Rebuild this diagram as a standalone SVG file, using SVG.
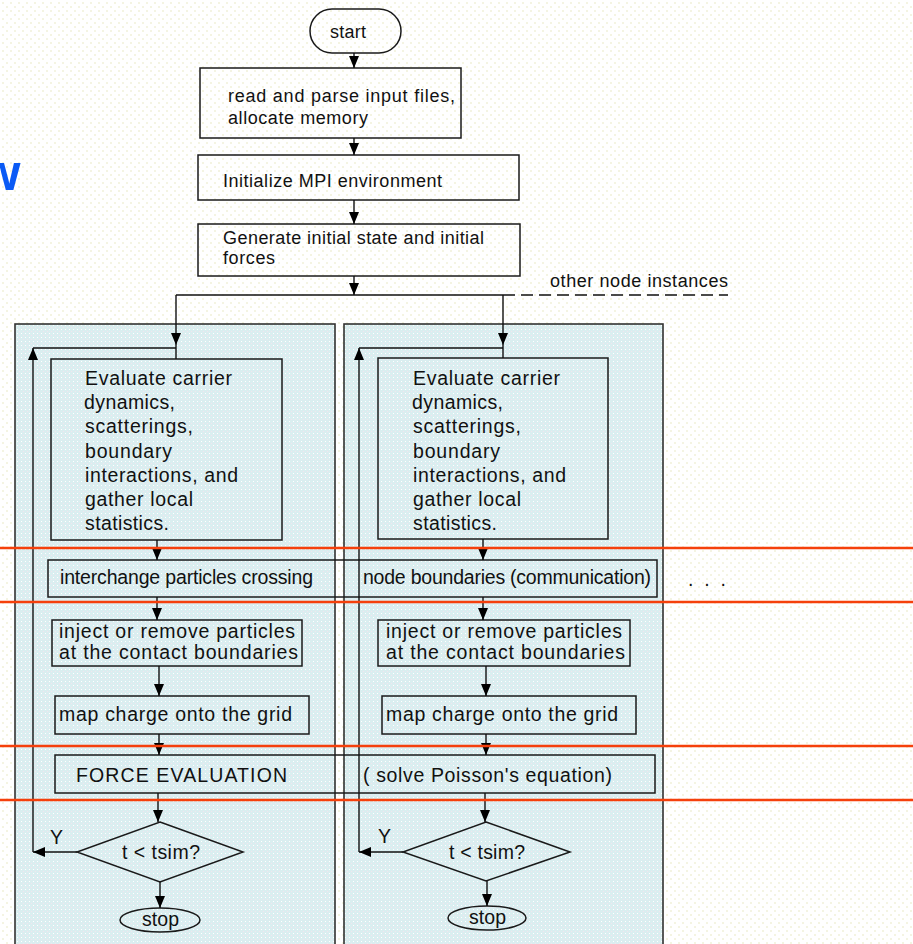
<svg xmlns="http://www.w3.org/2000/svg" width="913" height="944" viewBox="0 0 913 944">
<defs>
<pattern id="bgdots" width="8" height="8" patternUnits="userSpaceOnUse"><rect width="8" height="8" fill="#ffffff"/><rect x="2" y="2" width="2" height="2" fill="#f4f4e2"/><rect x="6" y="6" width="2" height="2" fill="#f4f4e2"/></pattern>
<pattern id="panelfill" width="4" height="4" patternUnits="userSpaceOnUse"><rect width="4" height="4" fill="#daeef0"/><rect x="1" y="1" width="1" height="1" fill="#ffffff"/><rect x="3" y="3" width="1" height="1" fill="#f3e4ee"/></pattern>
<marker id="arr" viewBox="0 0 12 10" refX="12" refY="5" markerWidth="12" markerHeight="10" markerUnits="userSpaceOnUse" orient="auto"><path d="M0,0 L12,5 L0,10 z" fill="#000"/></marker>
</defs>
<style>
.box{fill:none;stroke:#1a1a1a;stroke-width:1.5}
.panel{fill:url(#panelfill);stroke:#333;stroke-width:1.6}
.t{font-family:"Liberation Sans",Arial,sans-serif;fill:#111}
.top{font-size:18px}
.p{font-size:19.5px}
.c{fill:none;stroke:#111;stroke-width:1.4}
.ca{fill:none;stroke:#111;stroke-width:1.4;marker-end:url(#arr)}
.red{stroke:#f5400c;stroke-width:2.5}
</style>
<rect width="913" height="944" fill="url(#bgdots)"/>
<text x="-20" y="190" font-family="Liberation Sans,Arial,sans-serif" font-weight="bold" font-size="52" fill="#0a5af5">w</text>

<g id="panel-left"><rect class="panel" x="15" y="324" width="320" height="640"/></g>
<g id="panel-right"><rect class="panel" x="344" y="324" width="319" height="640"/></g>

<g id="start"><rect class="box" x="310" y="9" width="91" height="44" rx="22" ry="22"/><text class="t top" x="330" y="38" textLength="36" lengthAdjust="spacing">start</text></g>
<g id="read"><rect class="box" x="200" y="68" width="261" height="70"/><text class="t top" x="228" y="102" textLength="227" lengthAdjust="spacing">read and parse input files,</text><text class="t top" x="228" y="124" textLength="140" lengthAdjust="spacing">allocate memory</text></g>
<g id="init"><rect class="box" x="198" y="155" width="321" height="45"/><text class="t top" x="223" y="187" textLength="219" lengthAdjust="spacing">Initialize MPI environment</text></g>
<g id="generate"><rect class="box" x="198" y="224" width="322" height="52"/><text class="t top" x="223" y="244" textLength="261" lengthAdjust="spacing">Generate initial state and initial</text><text class="t top" x="223" y="264" textLength="52" lengthAdjust="spacing">forces</text></g>
<g id="other-label"><text class="t top" x="550" y="287" textLength="178" lengthAdjust="spacing">other node instances</text></g>

<g id="evaluate-left"><rect class="box" x="51" y="359" width="231" height="181"/>
<text class="t p" x="85" y="385" textLength="147" lengthAdjust="spacing">Evaluate carrier</text>
<text class="t p" x="84" y="409" textLength="91" lengthAdjust="spacing">dynamics,</text>
<text class="t p" x="85" y="433" textLength="108" lengthAdjust="spacing">scatterings,</text>
<text class="t p" x="85" y="458" textLength="87" lengthAdjust="spacing">boundary</text>
<text class="t p" x="85" y="482" textLength="153" lengthAdjust="spacing">interactions, and</text>
<text class="t p" x="85" y="506" textLength="108" lengthAdjust="spacing">gather local</text>
<text class="t p" x="85" y="530" textLength="84" lengthAdjust="spacing">statistics.</text></g>
<g id="evaluate-right"><rect class="box" x="378" y="358" width="230" height="181"/>
<text class="t p" x="413" y="385" textLength="147" lengthAdjust="spacing">Evaluate carrier</text>
<text class="t p" x="412" y="409" textLength="91" lengthAdjust="spacing">dynamics,</text>
<text class="t p" x="413" y="433" textLength="108" lengthAdjust="spacing">scatterings,</text>
<text class="t p" x="413" y="458" textLength="87" lengthAdjust="spacing">boundary</text>
<text class="t p" x="413" y="482" textLength="153" lengthAdjust="spacing">interactions, and</text>
<text class="t p" x="413" y="506" textLength="108" lengthAdjust="spacing">gather local</text>
<text class="t p" x="413" y="530" textLength="84" lengthAdjust="spacing">statistics.</text></g>

<g id="interchange"><rect class="box" x="48" y="560" width="609" height="37"/>
<text class="t p" x="60" y="584" textLength="253" lengthAdjust="spacing">interchange particles crossing</text>
<text class="t p" x="363" y="584" textLength="288" lengthAdjust="spacing">node boundaries (communication)</text></g>
<g id="dots"><text class="t p" x="688" y="586" textLength="38" lengthAdjust="spacing">. . .</text></g>

<g id="inject-left"><rect class="box" x="52" y="620" width="250" height="46"/>
<text class="t p" x="59" y="638" textLength="236" lengthAdjust="spacing">inject or remove particles</text>
<text class="t p" x="59" y="659" textLength="239" lengthAdjust="spacing">at the contact boundaries</text></g>
<g id="inject-right"><rect class="box" x="378" y="620" width="252" height="46"/>
<text class="t p" x="386" y="638" textLength="236" lengthAdjust="spacing">inject or remove particles</text>
<text class="t p" x="386" y="659" textLength="239" lengthAdjust="spacing">at the contact boundaries</text></g>

<g id="map-left"><rect class="box" x="55" y="696" width="254" height="38"/>
<text class="t p" x="59" y="721" textLength="233" lengthAdjust="spacing">map charge onto the grid</text></g>
<g id="map-right"><rect class="box" x="382" y="696" width="254" height="38"/>
<text class="t p" x="386" y="721" textLength="232" lengthAdjust="spacing">map charge onto the grid</text></g>

<g id="force"><rect class="box" x="55" y="755" width="600" height="38"/>
<text class="t p" x="76" y="782" textLength="211" lengthAdjust="spacing">FORCE EVALUATION</text>
<text class="t p" x="363" y="782" textLength="249" lengthAdjust="spacing">( solve Poisson's equation)</text></g>

<g id="decision-left"><polygon class="box" points="160,822 243,852 160,882 77,852"/>
<text class="t p" x="122" y="859" textLength="78" lengthAdjust="spacing">t &lt; tsim?</text>
<text class="t p" x="50" y="844">Y</text></g>
<g id="decision-right"><polygon class="box" points="486,822 570,852 486,881 403,852"/>
<text class="t p" x="449" y="859" textLength="76" lengthAdjust="spacing">t &lt; tsim?</text>
<text class="t p" x="378" y="843">Y</text></g>

<g id="stop-left"><ellipse class="box" cx="160" cy="920" rx="40" ry="12"/><text class="t p" x="142" y="926" textLength="37" lengthAdjust="spacing">stop</text></g>
<g id="stop-right"><ellipse class="box" cx="487" cy="918" rx="39" ry="12"/><text class="t p" x="469" y="924" textLength="37" lengthAdjust="spacing">stop</text></g>

<g id="connectors">
<path class="ca" d="M354,53 V68"/>
<path class="ca" d="M354,138 V155"/>
<path class="ca" d="M354,200 V224"/>
<path class="ca" d="M354,276 V295"/>
<path class="c" d="M176,295 H503"/>
<path class="c" d="M503,295 H728" stroke-dasharray="12 6"/>
<path class="ca" d="M176,295 V345"/><path class="c" d="M176,345 V359"/>
<path class="ca" d="M503,295 V345"/><path class="c" d="M503,345 V358"/>
<path class="ca" d="M77,852 H33"/><path class="ca" d="M33,852 V348"/><path class="c" d="M33,348 H176"/>
<path class="ca" d="M403,852 H359"/><path class="ca" d="M359,852 V348"/><path class="c" d="M359,348 H503"/>
<path class="ca" d="M157,540 V560"/>
<path class="ca" d="M157,597 V620"/>
<path class="ca" d="M159,666 V696"/>
<path class="ca" d="M159,734 V755"/>
<path class="ca" d="M158,793 V822"/>
<path class="ca" d="M160,882 V908"/>
<path class="ca" d="M483,539 V560"/>
<path class="ca" d="M483,597 V620"/>
<path class="ca" d="M486,666 V696"/>
<path class="ca" d="M486,734 V755"/>
<path class="ca" d="M485,793 V822"/>
<path class="ca" d="M487,881 V906"/>
</g>

<g id="red-lines">
<line class="red" x1="0" y1="548" x2="913" y2="548"/>
<line class="red" x1="0" y1="602" x2="913" y2="602"/>
<line class="red" x1="0" y1="746" x2="913" y2="746"/>
<line class="red" x1="0" y1="800" x2="913" y2="800"/>
</g>
</svg>
